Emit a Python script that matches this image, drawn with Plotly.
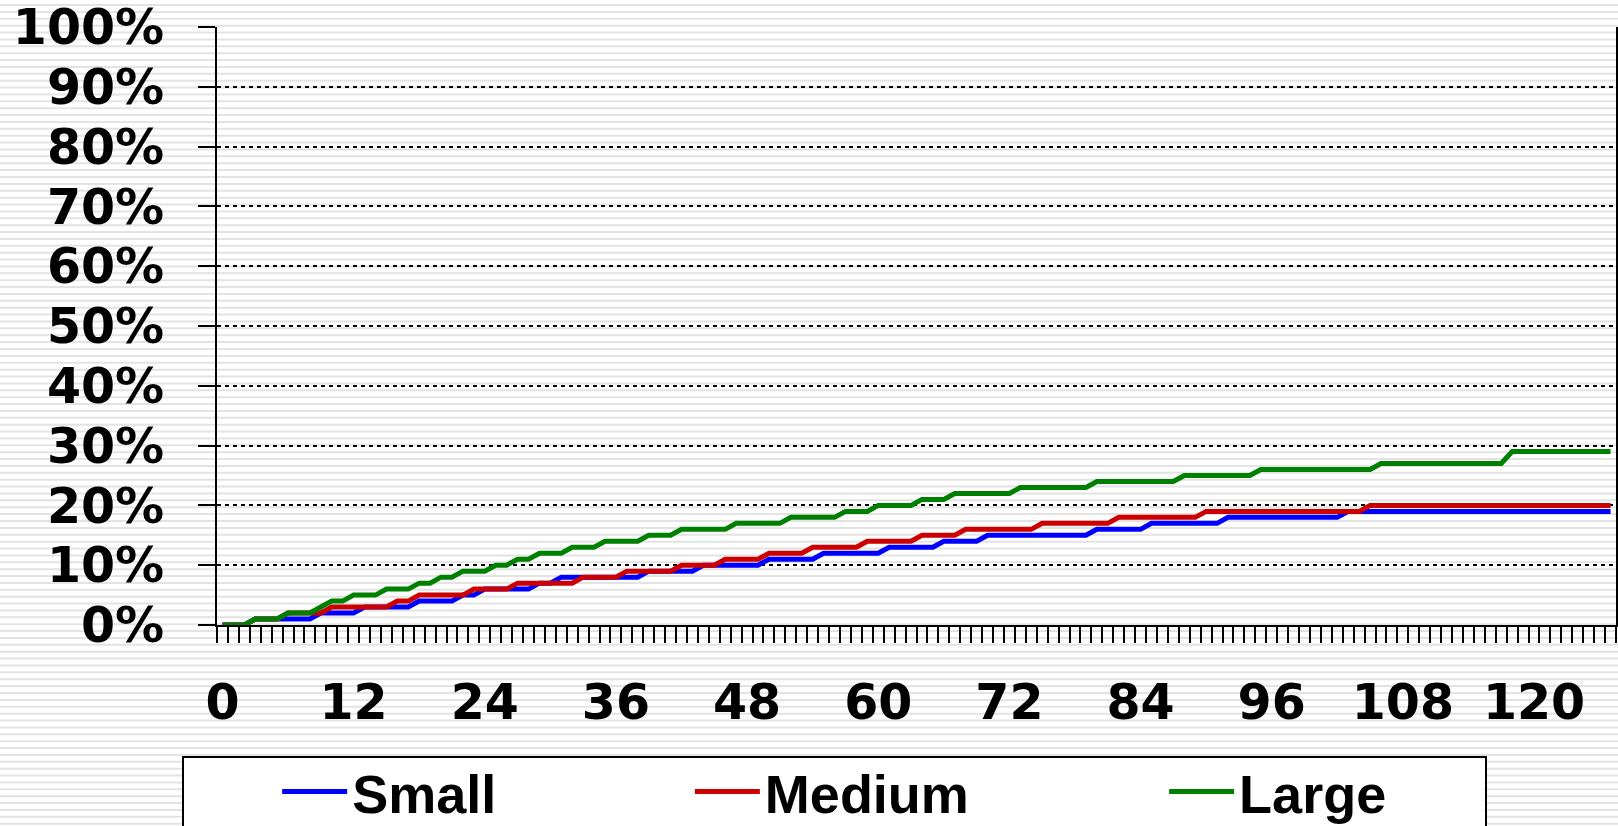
import plotly.graph_objects as go

# month index (category axis 0..127)
months = list(range(128))

# cumulative share, percent
small = [0, 0, 0, 1, 1, 1, 1, 1, 1, 2, 2, 2, 2, 3, 3, 3,
         3, 3, 4, 4, 4, 4, 5, 5, 6, 6, 6, 6, 6, 7, 7, 8,
         8, 8, 8, 8, 8, 8, 8, 9, 9, 9, 9, 9, 10, 10, 10, 10,
         10, 10, 11, 11, 11, 11, 11, 12, 12, 12, 12, 12, 12, 13, 13, 13,
         13, 13, 14, 14, 14, 14, 15, 15, 15, 15, 15, 15, 15, 15, 15, 15,
         16, 16, 16, 16, 16, 17, 17, 17, 17, 17, 17, 17, 18, 18, 18, 18,
         18, 18, 18, 18, 18, 18, 18, 19, 19, 19, 19, 19, 19, 19, 19, 19,
         19, 19, 19, 19, 19, 19, 19, 19, 19, 19, 19, 19, 19, 19, 19, 19]

medium = [0, 0, 0, 1, 1, 1, 2, 2, 2, 2, 3, 3, 3, 3, 3, 3,
          4, 4, 5, 5, 5, 5, 5, 6, 6, 6, 6, 7, 7, 7, 7, 7,
          7, 8, 8, 8, 8, 9, 9, 9, 9, 9, 10, 10, 10, 10, 11, 11,
          11, 11, 12, 12, 12, 12, 13, 13, 13, 13, 13, 14, 14, 14, 14, 14,
          15, 15, 15, 15, 16, 16, 16, 16, 16, 16, 16, 17, 17, 17, 17, 17,
          17, 17, 18, 18, 18, 18, 18, 18, 18, 18, 19, 19, 19, 19, 19, 19,
          19, 19, 19, 19, 19, 19, 19, 19, 19, 20, 20, 20, 20, 20, 20, 20,
          20, 20, 20, 20, 20, 20, 20, 20, 20, 20, 20, 20, 20, 20, 20, 20]

large = [0, 0, 0, 1, 1, 1, 2, 2, 2, 3, 4, 4, 5, 5, 5, 6,
         6, 6, 7, 7, 8, 8, 9, 9, 9, 10, 10, 11, 11, 12, 12, 12,
         13, 13, 13, 14, 14, 14, 14, 15, 15, 15, 16, 16, 16, 16, 16, 17,
         17, 17, 17, 17, 18, 18, 18, 18, 18, 19, 19, 19, 20, 20, 20, 20,
         21, 21, 21, 22, 22, 22, 22, 22, 22, 23, 23, 23, 23, 23, 23, 23,
         24, 24, 24, 24, 24, 24, 24, 24, 25, 25, 25, 25, 25, 25, 25, 26,
         26, 26, 26, 26, 26, 26, 26, 26, 26, 26, 27, 27, 27, 27, 27, 27,
         27, 27, 27, 27, 27, 27, 29, 29, 29, 29, 29, 29, 29, 29, 29, 29]

x_tick_vals = [0, 12, 24, 36, 48, 60, 72, 84, 96, 108, 120]
x_tick_text = ["0", "12", "24", "36", "48", "60", "72", "84", "96", "108", "120"]
y_tick_vals = [0, 10, 20, 30, 40, 50, 60, 70, 80, 90, 100]
y_tick_text = ["0%", "10%", "20%", "30%", "40%", "50%", "60%", "70%", "80%", "90%", "100%"]

series = [
    ("Small", small, "#0000ff", "legend", 0.043),
    ("Medium", medium, "#cc0000", "legend2", 0.338),
    ("Large", large, "#008000", "legend3", 0.677),
]

W, H = 1618, 826
ML, MR, MT, MB = 217, 2, 27, 201
PW, PH = W - ML - MR, H - MT - MB

def px_x(x):
    return (x - ML) / PW

def px_y(y):
    return (H - MB - y) / PH

fig = go.Figure()
legends = {}
for name, vals, color, leg, lx in series:
    fig.add_trace(go.Scatter(x=months, y=vals, mode="lines", name=name,
                             line=dict(color=color, width=5), legend=leg))
    legends[leg] = dict(x=lx, y=px_y(792), xanchor="left", yanchor="middle",
                        bgcolor="rgba(0,0,0,0)", borderwidth=0, itemwidth=65,
                        font=dict(family="Liberation Sans", size=54, color="black", weight="bold"))

# striped background (whole picture), then the white legend box
shapes = []
y = 5.0
while y < H:
    shapes.append(dict(type="line", xref="paper", yref="paper", layer="below",
                       x0=px_x(0), x1=px_x(W), y0=px_y(y), y1=px_y(y),
                       line=dict(color="#e3e3e3", width=2)))
    y += 6.88
shapes.append(dict(type="rect", xref="paper", yref="paper", layer="below",
                   x0=px_x(183), x1=px_x(1486), y0=px_y(757), y1=px_y(H + 20),
                   fillcolor="white", line=dict(color="black", width=2)))

tickfont = dict(family="DejaVu Sans", size=49, color="black", weight="bold")

fig.update_layout(
    width=W, height=H,
    margin=dict(l=ML, r=MR, t=MT, b=MB, autoexpand=False),
    paper_bgcolor="white", plot_bgcolor="rgba(0,0,0,0)",
    showlegend=True,
    shapes=shapes,
    **legends,
)
fig.update_xaxes(
    range=[-0.5, 127.5], tickmode="array", tickvals=x_tick_vals, ticktext=x_tick_text,
    ticks="", showline=True, linecolor="black", linewidth=2, showgrid=False, zeroline=False,
    tickfont=tickfont, ticklabelstandoff=33, automargin=False, ticklabeloverflow="allow",
    minor=dict(ticks="outside", ticklen=16, tickwidth=2, tickcolor="black",
               tickmode="array", tickvals=[m - 0.5 for m in months] + [127.5], showgrid=False),
)
fig.update_yaxes(
    range=[0, 100], tickmode="array", tickvals=y_tick_vals, ticktext=y_tick_text,
    ticks="outside", ticklen=17, tickwidth=2, tickcolor="black",
    showline=True, linecolor="black", linewidth=2, mirror=True, zeroline=False,
    showgrid=True, gridcolor="black", gridwidth=2, griddash="4px,4px",
    tickfont=tickfont, ticklabelstandoff=24, automargin=False, ticklabeloverflow="allow",
)

# page body has a default 8px margin; drop it so the figure sits at the window corner
fig.write_html("out.html", config={"displayModeBar": False},
               post_script="document.body.style.margin='0px';")
